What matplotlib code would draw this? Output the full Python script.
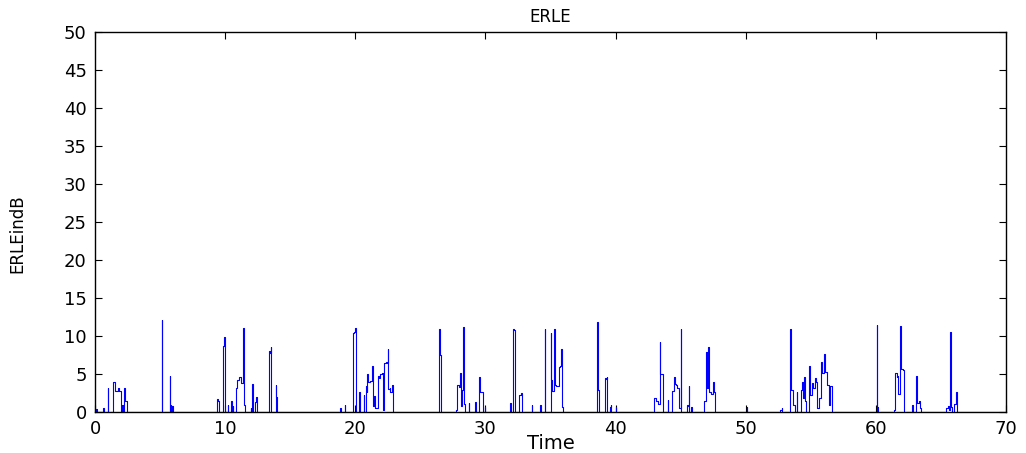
import numpy as np
import matplotlib
matplotlib.use("Agg")
from matplotlib import pyplot as plt

# ERLE trace: (time, dB) vertices, held until the next one
erle_pts = [
    (0.0, 0), (0.1, 0.4), (0.15, 0), (0.64, 0.5), (0.68, 0), (0.97, 3.2), (1.0, 0),
    (1.4, 3.95), (1.5, 2.7), (1.75, 3.2), (1.85, 2.7), (2.0, 0), (2.1, 0.9), (2.15, 0),
    (2.25, 3.2), (2.3, 1.4), (2.45, 0),
    (5.13, 12.1), (5.17, 0), (5.77, 4.7), (5.8, 0), (5.83, 0.9), (5.87, 0), (5.95, 0.8), (6.0, 0),
    (9.36, 1.75), (9.42, 1.5), (9.55, 0), (9.82, 8.7), (9.92, 9.9), (9.97, 8.7), (10.0, 0),
    (10.18, 0.9), (10.22, 0), (10.44, 1.4), (10.5, 0), (10.6, 0.8), (10.63, 0),
    (10.8, 3.1), (10.9, 4.2), (11.05, 4.55), (11.2, 3.8), (11.4, 11.1), (11.47, 0.9), (11.55, 0),
    (11.95, 0.5), (12.0, 0), (12.1, 3.7), (12.15, 0), (12.3, 1.3), (12.37, 2.0), (12.45, 0),
    (13.36, 8.07), (13.42, 7.8), (13.5, 8.6), (13.55, 0), (13.87, 3.6), (13.92, 2.0), (14.0, 0),
    (18.85, 0.5), (18.9, 0), (19.18, 0.9), (19.22, 0),
    (19.8, 10.4), (19.9, 10.5), (20.0, 11.05), (20.04, 0), (20.3, 2.6), (20.34, 0),
    (20.64, 2.3), (20.68, 0),
    (20.8, 3.4), (20.87, 2.6), (20.93, 4.95), (21.0, 4.0), (21.1, 4.1), (21.25, 6.1), (21.33, 4.2),
    (21.38, 0.8), (21.45, 2.1), (21.55, 0.5), (21.78, 4.7), (21.85, 4.5), (21.93, 5.0), (22.02, 5.1),
    (22.1, 0.3), (22.22, 6.4), (22.32, 6.6), (22.4, 6.5), (22.5, 8.3), (22.53, 3.0), (22.63, 3.2),
    (22.7, 2.6), (22.85, 3.6), (22.93, 0),
    (26.43, 10.9), (26.5, 7.5), (26.6, 0),
    (27.7, 0.3), (27.85, 3.6), (27.95, 3.3), (28.05, 5.1), (28.12, 0.8), (28.2, 2.9), (28.3, 11.2),
    (28.37, 1.1), (28.42, 0), (28.7, 1.2), (28.75, 0), (29.2, 1.3), (29.25, 0),
    (29.5, 4.55), (29.6, 2.6), (29.8, 0), (29.95, 0.7), (30.0, 0),
    (31.9, 1.2), (31.95, 0), (32.1, 10.9), (32.2, 10.8), (32.3, 0), (32.6, 2.3), (32.7, 2.45), (32.8, 0),
    (33.56, 0.9), (33.6, 0), (34.2, 0.9), (34.25, 0), (34.54, 10.9), (34.6, 0),
    (35.0, 10.35), (35.05, 4.2), (35.12, 2.7), (35.28, 10.9), (35.35, 3.6), (35.45, 3.4), (35.62, 5.9),
    (35.72, 6.0), (35.8, 8.3), (35.85, 2.3), (35.9, 0.7), (35.97, 0),
    (38.56, 11.85), (38.62, 2.9), (38.72, 0), (39.15, 4.5), (39.25, 4.4), (39.3, 4.6), (39.35, 0),
    (39.56, 0.7), (39.63, 0.9), (39.68, 0), (40.0, 0.7), (40.05, 0),
    (42.95, 1.85), (43.08, 1.5), (43.22, 1.0), (43.38, 9.2), (43.43, 5.0), (43.55, 5.0), (43.62, 0),
    (44.0, 1.6), (44.05, 0),
    (44.36, 2.75), (44.45, 4.55), (44.55, 3.65), (44.65, 3.5), (44.75, 3.2), (44.85, 0.5),
    (45.02, 10.9), (45.06, 0), (45.45, 0.9), (45.55, 0.8), (45.6, 3.4), (45.65, 0), (45.8, 0.7), (45.85, 0),
    (46.8, 1.4), (46.95, 7.9), (47.02, 3.2), (47.1, 8.6), (47.18, 2.6), (47.3, 2.4), (47.45, 4.0),
    (47.52, 2.6), (47.65, 0),
    (50.08, 0.6), (50.1, 0),
    (52.6, 0.3), (52.75, 0.5), (52.8, 0),
    (53.38, 10.9), (53.45, 2.9), (53.6, 0.9), (53.75, 0.9), (53.8, 0), (53.92, 2.6), (53.97, 0),
    (54.23, 2.9), (54.3, 4.0), (54.4, 1.8), (54.48, 4.55), (54.55, 1.5), (54.62, 0),
    (54.85, 6.05), (54.92, 2.2), (55.05, 3.8), (55.15, 3.1), (55.3, 4.45), (55.4, 4.0), (55.5, 0.5),
    (55.65, 1.8), (55.8, 6.6), (55.88, 5.1), (55.98, 7.6), (56.05, 5.3), (56.15, 5.2), (56.25, 3.5),
    (56.38, 0.9), (56.48, 3.4), (56.6, 0),
    (60.05, 11.5), (60.1, 0.6), (60.12, 0),
    (61.36, 0.3), (61.48, 5.1), (61.58, 4.55), (61.65, 4.7), (61.72, 2.4), (61.82, 11.3), (61.9, 5.6),
    (62.05, 5.5), (62.12, 0), (62.8, 0.9), (62.84, 0),
    (63.1, 4.8), (63.18, 1.2), (63.28, 1.4), (63.38, 0.5), (63.45, 0),
    (65.36, 0.5), (65.5, 0.8), (65.58, 0.3), (65.68, 10.5), (65.75, 0.6), (65.85, 0),
    (66.0, 1.1), (66.15, 2.6), (66.22, 0), (70.0, 0),
]
time = [p[0] for p in erle_pts]
erle_db = [p[1] for p in erle_pts]

plt.rcParams['font.family'] = ['DejaVu Sans']

fig = plt.figure(figsize=(10.26, 4.53), dpi=100)
ax = fig.add_axes([0.0926, 0.0905, 0.888, 0.839])
ax.plot(time, erle_db, color=(0, 0, 1), lw=0.8, drawstyle='steps-post')

ax.set_xlim(0, 70)
ax.set_ylim(0, 50)
ax.set_xticks(np.arange(0, 71, 10))
ax.set_yticks(np.arange(0, 51, 5))
ax.tick_params(direction='in', length=5, width=0.8, labelsize=13,
               top=True, right=True, pad=6)
for s in ax.spines.values():
    s.set_linewidth(1.0)

ax.set_title('ERLE', fontsize=12, y=1.0395, va='center', pad=0)
ax.set_xlabel('Time', fontsize=14)
ax.xaxis.set_label_coords(0.5, -0.084)
ax.xaxis.label.set_va('center')
ax.set_ylabel('ERLEindB', fontsize=12)
ax.yaxis.set_label_coords(-0.0856, 0.47)
ax.yaxis.label.set_va('center')

fig.savefig('out.png', dpi=100)
